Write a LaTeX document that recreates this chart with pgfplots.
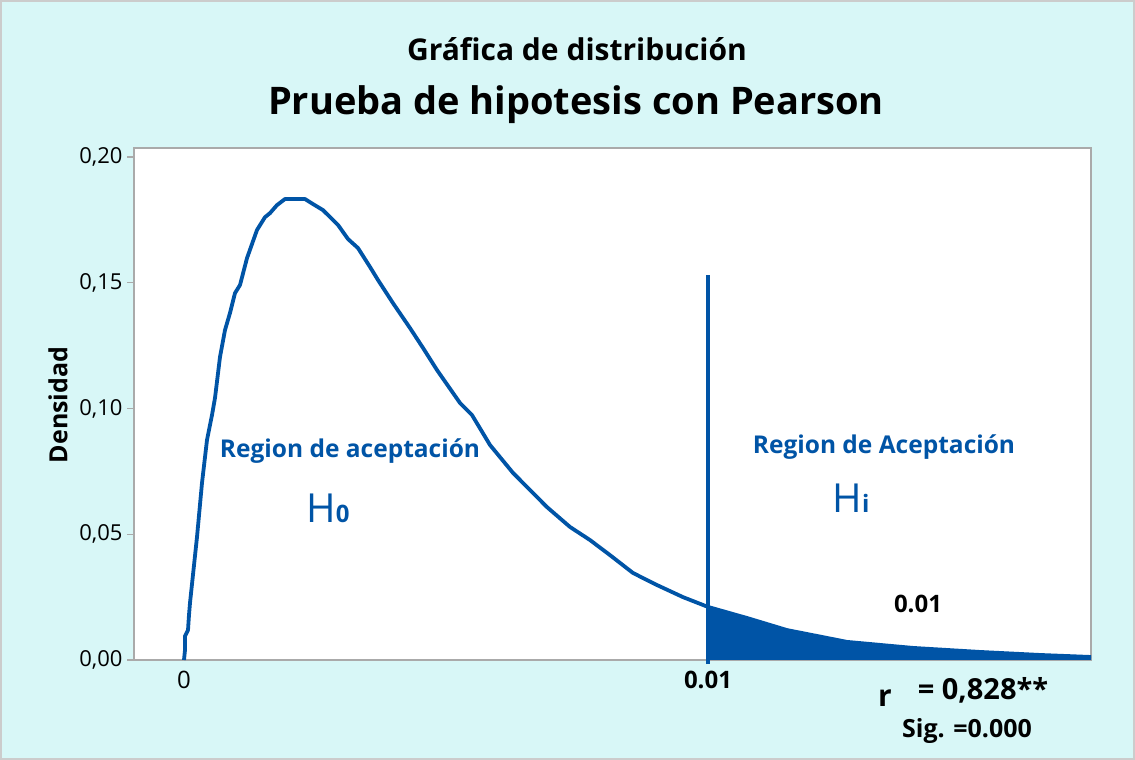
\documentclass[border=0pt]{standalone}
\usepackage{fontspec}
\setmainfont{Open Sans}
\usepackage{pgfplots}
\pgfplotsset{compat=1.18}
\definecolor{bgc}{RGB}{216,247,247}
\definecolor{curve}{RGB}{0,84,166}
\definecolor{frame}{RGB}{170,170,170}
\begin{document}
\begin{tikzpicture}
\fill[bgc] (0pt,0pt) rectangle (1135pt,760pt);
\draw[frame!60, line width=1.5pt] (1pt,1pt) rectangle (1134pt,759pt);
\begin{axis}[
  at={(134pt,100pt)}, anchor=south west,
  width=957pt, height=512pt, scale only axis,
  xmin=-1.0, xmax=18.14, ymin=0, ymax=0.2036,
  axis background/.style={fill=white},
  axis line style={draw=frame, line width=1.2pt},
  xtick={0,10.48}, xticklabels={0,\textbf{0.01}},
  ytick={0,0.05,0.10,0.15,0.20},
  yticklabels={{0,00},{0,05},{0,10},{0,15},{0,20}},
  x tick style={draw=none},
  y tick style={draw=frame, line width=1.2pt},
  major tick length=7pt,
  tick align=outside,
  xtick pos=bottom, ytick pos=left,
  yticklabel style={font=\fontsize{22}{26}\selectfont, xshift=-1pt},
  xticklabel style={font=\fontsize{24}{28}\selectfont, yshift=-1pt},
  clip=false,
]
\addplot[draw=none, fill=curve] coordinates {
(10.48,0) (10.48,0.0211) (11.26,0.0167) (12.06,0.0119) (13.26,0.0072) (14.58,0.0048) (15.92,0.0032) (17.12,0.0020) (18.14,0.0012) (18.14,0)
} --cycle;
\addplot[curve, line width=3.8pt, line join=round] coordinates {
(0,0) (0.02,0.0040) (0.02,0.0095) (0.08,0.0119) (0.10,0.0179) (0.12,0.0227)
(0.26,0.0489) (0.36,0.0704) (0.46,0.0875) (0.56,0.0974) (0.62,0.1042)
(0.72,0.1205) (0.82,0.1312) (0.92,0.1380) (1.02,0.1459) (1.12,0.1491)
(1.26,0.1598) (1.46,0.1710) (1.62,0.1761) (1.72,0.1777) (1.86,0.1809)
(2.02,0.1833) (2.42,0.1833) (2.58,0.1813) (2.78,0.1789) (3.08,0.1730)
(3.28,0.1674) (3.48,0.1638) (3.72,0.1563) (3.88,0.1511) (4.18,0.1419)
(4.52,0.1320) (4.78,0.1241) (5.06,0.1153) (5.52,0.1022) (5.76,0.0974)
(6.12,0.0855) (6.58,0.0744) (6.86,0.0688) (7.26,0.0608) (7.72,0.0529)
(8.12,0.0477) (8.52,0.0417) (8.98,0.0346) (9.46,0.0298) (9.98,0.0250)
(10.48,0.0211) (11.26,0.0167) (12.06,0.0119) (13.26,0.0072) (14.58,0.0048)
(15.92,0.0032) (17.12,0.0020) (18.14,0.0012)
};
\addplot[curve, line width=3.8pt] coordinates {(10.48,-0.0016) (10.48,0.1531)};
\end{axis}
\node at (577pt,711pt) {\fontsize{30}{36}\selectfont\bfseries Gráfica de distribución};
\node at (576pt,655pt) {\fontsize{38}{45}\selectfont\bfseries Prueba de hipotesis con Pearson};
\node[rotate=90] at (58pt,355pt) {\fontsize{25}{30}\selectfont\bfseries Densidad};
\node[text=curve] at (350pt,309pt) {\fontsize{24.5}{29}\selectfont\bfseries Region de aceptación};
\node[text=curve] at (884pt,313pt) {\fontsize{24.5}{29}\selectfont\bfseries Region de Aceptación};
\node[text=curve] at (328pt,252pt) {\fontsize{40}{46}\selectfont H\fontsize{24}{28}\selectfont\bfseries 0};
\node[text=curve] at (851pt,262pt) {\fontsize{40}{46}\selectfont H\fontsize{24}{28}\selectfont\bfseries i};
\node at (918pt,156pt) {\fontsize{24}{28}\selectfont\bfseries 0.01};
\node at (885pt,62pt) {\fontsize{30}{36}\selectfont\bfseries r};
\node at (983pt,70pt) {\fontsize{29}{34}\selectfont\bfseries = 0,828**};
\node at (967pt,29pt) {\fontsize{25}{30}\selectfont\bfseries Sig. =0.000};
\end{tikzpicture}
\end{document}
